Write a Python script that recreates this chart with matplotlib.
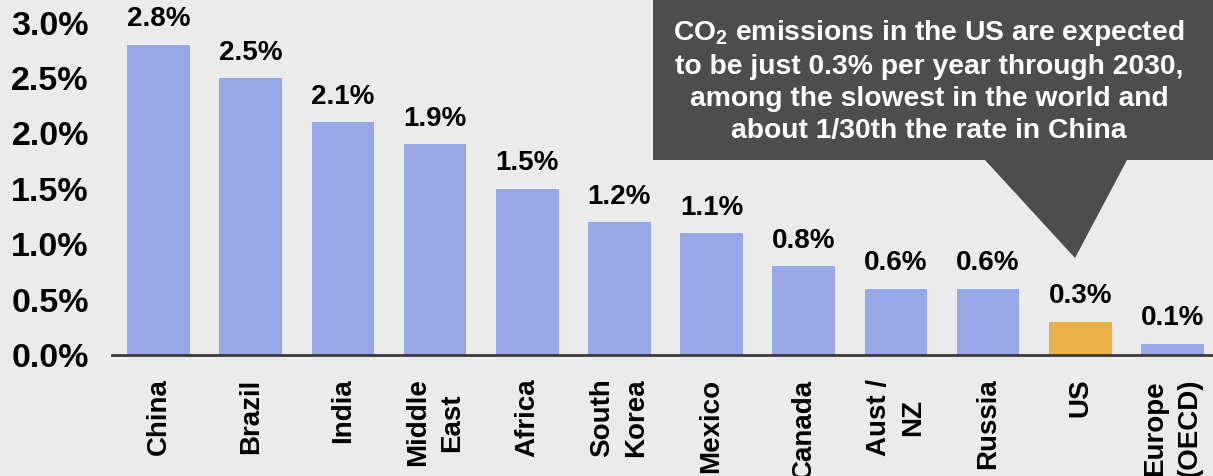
import matplotlib
matplotlib.use("Agg")
import matplotlib.pyplot as plt
from matplotlib.patches import Polygon

plt.rcParams['font.family'] = ['Liberation Sans', 'DejaVu Sans']
plt.rcParams['font.weight'] = 'bold'
plt.rcParams['mathtext.default'] = 'regular'

# annual growth in CO2 emissions to 2030, by region
regions = ['China', 'Brazil', 'India', 'Middle\nEast', 'Africa', 'South\nKorea',
           'Mexico', 'Canada', 'Aust /\nNZ', 'Russia', 'US', 'Europe\n(OECD)']
growth = [2.8, 2.5, 2.1, 1.9, 1.5, 1.2, 1.1, 0.8, 0.6, 0.6, 0.3, 0.1]
yticks = [0.0, 0.5, 1.0, 1.5, 2.0, 2.5, 3.0]
highlight = 'US'

BG = '#ebebeb'
BAR = '#98a7e8'
HL = '#eab246'
BOX = '#4d4d4d'

W, H = 1213, 476
fig = plt.figure(figsize=(W / 100, H / 100), dpi=100, facecolor=BG)
ax = fig.add_axes([112.4 / W, (H - 355) / H, (W - 112.4) / W, 355 / H])
ax.set_facecolor(BG)

colors = [HL if r == highlight else BAR for r in regions]
x = range(len(regions))
bars = ax.bar(x, growth, width=0.68, color=colors, zorder=2)

for i, v in enumerate(growth):
    ax.annotate(f'{v:.1f}%', (i, v), xytext=(0, 9), textcoords='offset points',
                ha='center', va='bottom', fontsize=20, fontweight='bold')

ax.set_xlim(-0.5, 11.44)
ax.set_ylim(0, 3.204)
ax.set_yticks(yticks)
ax.set_yticklabels([f'{t:.1f}%' for t in yticks], fontsize=24.5, fontweight='bold')
ax.set_xticks(list(x))
ax.set_xticklabels(regions, rotation=90, fontsize=20, fontweight='bold',
                   multialignment='center', linespacing=1.4)
ax.tick_params(axis='y', length=0, pad=17)
ax.tick_params(axis='x', length=0, pad=17)
for s in ['top', 'right', 'left']:
    ax.spines[s].set_visible(False)
ax.spines['bottom'].set_color('#3a3a3a')
ax.spines['bottom'].set_linewidth(2)
ax.spines['bottom'].set_zorder(3)

# callout box with pointer down to the US bar
def fx(px):
    return px / W

def fy(py):
    return 1 - py / H

box = Polygon([(fx(653), fy(0)), (fx(W + 5), fy(0)), (fx(W + 5), fy(160)),
               (fx(1127), fy(160)), (fx(1075), fy(258)), (fx(985), fy(160)),
               (fx(653), fy(160))],
              closed=True, transform=fig.transFigure, facecolor=BOX,
              edgecolor='none', zorder=5)
fig.patches.append(box)

note = ('CO$_2$ emissions in the US are expected\n'
        'to be just 0.3% per year through 2030,\n'
        'among the slowest in the world and\n'
        'about 1/30th the rate in China')
fig.text(fx(929), fy(81), note, ha='center', va='center', color='white',
         fontsize=20.3, fontweight='bold', linespacing=1.3, zorder=6)

fig.savefig('out.png', dpi=100, facecolor=BG)
